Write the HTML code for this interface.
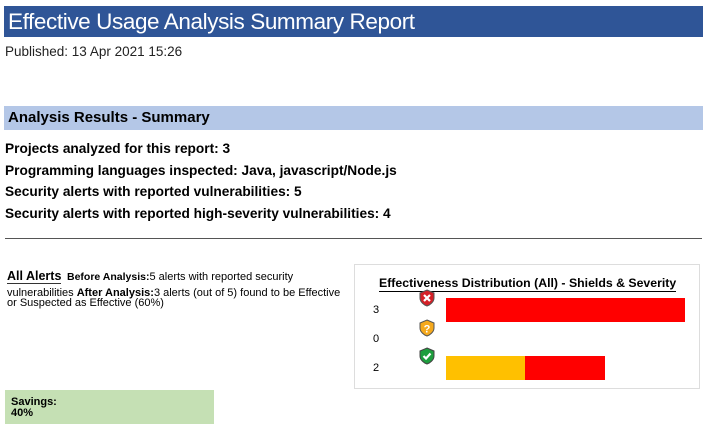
<!DOCTYPE html>
<html><head><style>
body{margin:0;width:707px;height:428px;background:#fff;font-family:"Liberation Sans",sans-serif;position:relative;overflow:hidden;color:#000}
.a{position:absolute;white-space:nowrap}
</style></head><body>
<div class="a" style="left:4px;top:6px;width:699px;height:31px;background:#2f5597"></div>
<div class="a" style="left:8px;top:7px;font-size:22.5px;color:#fff;line-height:29px;letter-spacing:-0.4px">Effective Usage Analysis Summary Report</div>
<div class="a" style="left:5px;top:44px;font-size:13.5px;color:#222">Published: 13 Apr 2021 15:26</div>
<div class="a" style="left:4px;top:106px;width:699px;height:24px;background:#b4c7e7"></div>
<div class="a" style="left:8px;top:108px;font-size:15px;font-weight:bold;line-height:20px">Analysis Results - Summary</div>
<div class="a" style="left:5px;top:138px;font-size:13.7px;font-weight:bold;line-height:21.5px">Projects analyzed for this report: 3<br>Programming languages inspected: Java, javascript/Node.js<br>Security alerts with reported vulnerabilities: 5<br>Security alerts with reported high-severity vulnerabilities: 4</div>
<div class="a" style="left:5px;top:238px;width:697px;height:1px;background:#555"></div>
<div class="a" style="left:7px;top:269px;font-size:12.5px;font-weight:bold;border-bottom:1px solid #333">All Alerts</div>
<div class="a" style="left:67px;top:271px;font-size:11px"><b style="font-size:10.5px">Before Analysis:</b>5 alerts with reported security</div>
<div class="a" style="left:7px;top:288px;font-size:11px;line-height:10px"><span>vulnerabilities </span><b style="font-size:11px">After Analysis:</b>3 alerts (out of 5) found to be Effective<br>or Suspected as Effective (60%)</div>
<div class="a" style="left:354px;top:264px;width:344px;height:123px;border:1.5px solid #ddd"></div>
<div class="a" style="left:379px;top:276px;font-size:12.3px;font-weight:bold;border-bottom:1px solid #000;line-height:15px">Effectiveness Distribution (All) - Shields &amp; Severity</div>
<div class="a" style="left:373px;top:304px;font-size:11px">3</div>
<div class="a" style="left:373px;top:333px;font-size:11px">0</div>
<div class="a" style="left:373px;top:362px;font-size:11px">2</div>
<div class="a" style="left:446px;top:298px;width:239px;height:24px;background:#f00"></div>
<div class="a" style="left:446px;top:356px;width:79px;height:24px;background:#ffc000"></div>
<div class="a" style="left:525px;top:356px;width:80px;height:24px;background:#f00"></div>
<svg class="a" style="left:418px;top:289px" width="18" height="18" viewBox="0 0 18 18"><path d="M9 1L16 4V9C16 13 12 16 9 17C6 16 2 13 2 9V4Z" fill="#d42027" stroke="#555" stroke-width="1"/><path d="M6 6L12 12M12 6L6 12" stroke="#fff" stroke-width="2.2"/></svg>
<svg class="a" style="left:418px;top:319px" width="18" height="18" viewBox="0 0 18 18"><path d="M9 1L16 4V9C16 13 12 16 9 17C6 16 2 13 2 9V4Z" fill="#f5a91d" stroke="#555" stroke-width="1"/><text x="9" y="13.5" font-size="11" font-weight="bold" fill="#fff" text-anchor="middle" font-family="Liberation Sans">?</text></svg>
<svg class="a" style="left:418px;top:347px" width="18" height="18" viewBox="0 0 18 18"><path d="M9 1L16 4V9C16 13 12 16 9 17C6 16 2 13 2 9V4Z" fill="#1e9e3e" stroke="#444" stroke-width="1"/><path d="M5.5 9L8 11.5L12.5 6.5" stroke="#fff" stroke-width="2.2" fill="none"/></svg>
<div class="a" style="left:5px;top:390px;width:209px;height:34px;background:#c5e0b4"></div>
<div class="a" style="left:11px;top:397px;font-size:11px;font-weight:bold;line-height:11px">Savings:<br>40%</div>
</body></html>
